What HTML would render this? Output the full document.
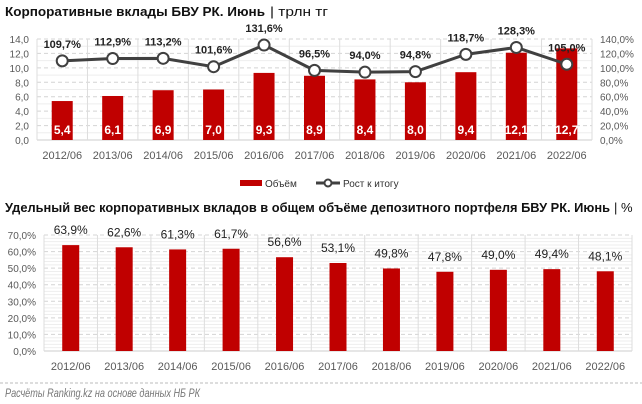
<!DOCTYPE html>
<html><head><meta charset="utf-8"><style>
html,body{margin:0;padding:0;background:#fff;}
svg{display:block;font-family:"Liberation Sans","DejaVu Sans",sans-serif;}
</style></head><body>
<svg id="s" width="642" height="404" xmlns="http://www.w3.org/2000/svg">
<text x="5" y="16" font-size="13" font-weight="bold" fill="#111" textLength="260" lengthAdjust="spacingAndGlyphs">Корпоративные вклады БВУ РК. Июнь</text>
<text x="270" y="16" font-size="13" fill="#111" textLength="58" lengthAdjust="spacingAndGlyphs">| трлн тг</text>
<text x="5" y="212" font-size="13" font-weight="bold" fill="#111" textLength="605" lengthAdjust="spacingAndGlyphs">Удельный вес корпоративных вкладов в общем объёме депозитного портфеля БВУ РК. Июнь</text>
<text x="614" y="212" font-size="13" fill="#111">| %</text>
<g id="c1"></g>
<g id="c2"></g>
<g>
<g><rect x="240" y="180" width="22" height="6" fill="#c00000"/><text x="265" y="187" font-size="10" fill="#333">Объём</text></g>
<g><line x1="316" y1="183" x2="340" y2="183" stroke="#404040" stroke-width="3"/><circle cx="328" cy="183" r="3.5" fill="#fff" stroke="#404040" stroke-width="2"/><text x="343" y="187" font-size="10" fill="#333">Рост к итогу</text></g>
</g>
<line x1="0" y1="383" x2="642" y2="383" stroke="#bbb" stroke-dasharray="3,2"/>
<text x="5" y="397" font-size="12" font-style="italic" fill="#777" textLength="195" lengthAdjust="spacingAndGlyphs">Расчёты Ranking.kz на основе данных НБ РК</text>
</svg>
<script>
const categories=["2012/06","2013/06","2014/06","2015/06","2016/06","2017/06","2018/06","2019/06","2020/06","2021/06","2022/06"];
const volumeValues=[5.4,6.1,6.9,7.0,9.3,8.9,8.4,8.0,9.4,12.1,12.7];
const growthValues=[109.7,112.9,113.2,101.6,131.6,96.5,94.0,94.8,118.7,128.3,105.0];
const shareValues=[63.9,62.6,61.3,61.7,56.6,53.1,49.8,47.8,49.0,49.4,48.1];
const leftTicks=[0,2,4,6,8,10,12,14];
const rightTicks=[0,20,40,60,80,100,120,140];
const shareTicks=[0,10,20,30,40,50,60,70];
const NS="http://www.w3.org/2000/svg";
function mk(p,tag,at,txt){const e=document.createElementNS(NS,tag);for(const k in at)e.setAttribute(k,at[k]);if(txt!==undefined)e.textContent=txt;p.appendChild(e);return e;}
const fmt=(v,d)=>v.toFixed(d).replace('.',',');
// chart 1
const c1=document.getElementById('c1');
const L1=37,R1=592,T1=39,B1=140,cw1=(R1-L1)/categories.length;
const x1=i=>L1+cw1*(i+0.5);
const y1=v=>B1-(v/14)*(B1-T1);
const y1r=v=>B1-(v/140)*(B1-T1);
for(let v=1;v<14;v+=2){const l=mk(c1,'line',{x1:L1,x2:R1,y1:y1(v),y2:y1(v),stroke:'#eee','stroke-width':1});}
leftTicks.forEach(v=>{const l=mk(c1,'line',{x1:L1,x2:R1,y1:y1(v),y2:y1(v),stroke:v===0?'#ccc':'#d4d4d4','stroke-dasharray':v===0?'':'4,3'});
const t=mk(c1,'text',{x:L1-8,y:y1(v)+4,'font-size':10,fill:'#595959','text-anchor':'end'},fmt(v,1));});
rightTicks.forEach(v=>{const t=mk(c1,'text',{x:600,y:y1r(v)+4,'font-size':10,fill:'#595959'},fmt(v,1)+'%');});
for(let i=0;i<=categories.length;i++){const l=mk(c1,'line',{x1:L1+cw1*i,x2:L1+cw1*i,y1:T1,y2:B1,stroke:'#ddd'});}
categories.forEach((c,i)=>{const t=mk(c1,'text',{x:x1(i),y:159,'font-size':11,fill:'#595959','text-anchor':'middle'},c);});
volumeValues.forEach((v,i)=>{const b=mk(c1,'rect',{x:x1(i)-10.5,y:y1(v),width:21,height:B1-y1(v),fill:'#c00000'});
const t=mk(c1,'text',{x:x1(i),y:134,'font-size':12,'font-weight':'bold',fill:'#fff','text-anchor':'middle'},fmt(v,1));});
const pts=growthValues.map((v,i)=>x1(i)+','+y1r(v)).join(' ');
const pl=mk(c1,'polyline',{points:pts,fill:'none',stroke:'#404040','stroke-width':3});
growthValues.forEach((v,i)=>{const c=mk(c1,'circle',{cx:x1(i),cy:y1r(v),r:5.5,fill:'#fff',stroke:'#404040','stroke-width':2});
const t=mk(c1,'text',{x:x1(i),y:y1r(v)-13,'font-size':11,'font-weight':'bold',fill:'#222','text-anchor':'middle'},fmt(v,1)+'%');});
// chart 2
const c2=document.getElementById('c2');
const L2=44,R2=632,T2=235,B2=351,cw2=(R2-L2)/categories.length;
const x2=i=>L2+cw2*(i+0.5);
const y2=v=>B2-(v/70)*(B2-T2);
for(let v=2;v<70;v+=2){if(v%10){const l=mk(c2,'line',{x1:L2,x2:R2,y1:y2(v),y2:y2(v),stroke:'#eee'});}}
shareTicks.forEach(v=>{const l=mk(c2,'line',{x1:L2,x2:R2,y1:y2(v),y2:y2(v),stroke:v===0?'#ccc':'#d4d4d4','stroke-dasharray':v===0?'':'4,3'});
const t=mk(c2,'text',{x:L2-8,y:y2(v)+4,'font-size':10,fill:'#595959','text-anchor':'end'},fmt(v,1)+'%');});
for(let i=0;i<=categories.length;i++){const l=mk(c2,'line',{x1:L2+cw2*i,x2:L2+cw2*i,y1:T2,y2:B2,stroke:'#ddd'});}
categories.forEach((c,i)=>{const t=mk(c2,'text',{x:x2(i),y:370,'font-size':11,fill:'#595959','text-anchor':'middle'},c);});
shareValues.forEach((v,i)=>{const b=mk(c2,'rect',{x:x2(i)-8.5,y:y2(v),width:17,height:B2-y2(v),fill:'#c00000'});
const t=mk(c2,'text',{x:x2(i),y:y2(v)-11,'font-size':12,fill:'#222','text-anchor':'middle'},fmt(v,1)+'%');});
</script>
</body></html>
